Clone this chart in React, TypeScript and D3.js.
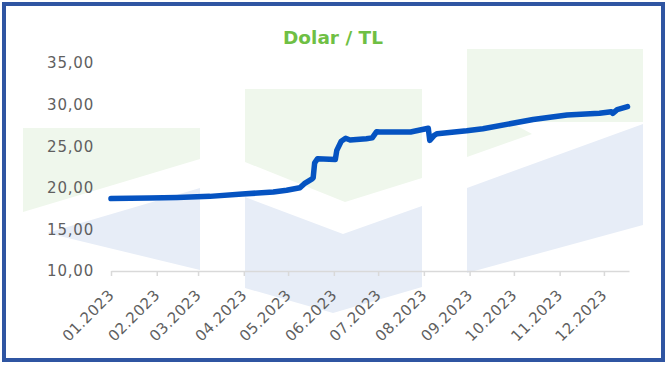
import React, { useEffect, useRef } from 'react';
import * as d3 from 'd3';

// USD/TRY 2023
const dates = [
  '2023-01-01', '2023-01-27', '2023-02-15', '2023-03-09', '2023-03-31',
  '2023-04-21', '2023-04-30', '2023-05-09', '2023-05-12', '2023-05-17',
  '2023-05-18', '2023-05-19', '2023-05-21', '2023-06-02', '2023-06-03',
  '2023-06-06', '2023-06-09', '2023-06-12', '2023-06-23', '2023-06-27',
  '2023-06-30', '2023-07-02', '2023-07-23', '2023-08-04', '2023-08-05',
  '2023-08-08', '2023-08-10', '2023-08-30', '2023-09-10', '2023-10-14',
  '2023-11-06', '2023-11-28', '2023-12-06', '2023-12-07', '2023-12-10',
  '2023-12-17'
];
const rates = [
  18.70, 18.76, 18.82, 18.97, 19.25,
  19.50, 19.70, 20.00, 20.50, 21.05,
  21.20, 23.00, 23.50, 23.40, 24.50,
  25.60, 25.95, 25.75, 25.90, 26.00,
  26.75, 26.70, 26.70, 27.15, 25.70,
  26.30, 26.50, 26.85, 27.10, 28.20,
  28.75, 28.95, 29.15, 28.95, 29.40,
  29.75
];
const yTicks = [10, 15, 20, 25, 30, 35];
const monthTicks = [
  '2023-01-01', '2023-02-01', '2023-03-01', '2023-04-01', '2023-05-01', '2023-06-01',
  '2023-07-01', '2023-08-01', '2023-09-01', '2023-10-01', '2023-11-01', '2023-12-01'
];
const xDomain = ['2023-01-01', '2023-12-18'];

// decorative logo watermark behind the plot
const watermark = [
  { fill: '#eff7ec', points: [[23, 128], [200, 128], [200, 159], [23, 212]] },
  { fill: '#e7edf7', points: [[47, 233], [200, 188], [200, 270]] },
  { fill: '#eff7ec', points: [[245, 89], [422, 89], [422, 178], [345, 202], [245, 162]] },
  { fill: '#e7edf7', points: [[245, 197], [343, 234], [422, 206], [422, 287], [333, 313], [245, 288]] },
  { fill: '#eff7ec', points: [[467, 49], [643, 49], [643, 122], [510, 122], [532, 134], [467, 157]] },
  { fill: '#e7edf7', points: [[467, 188], [643, 124], [643, 225], [467, 273]] }
];

const WIDTH = 668;
const HEIGHT = 366;
const FONT = '"DejaVu Sans", sans-serif';

const App = () => {
  const svgRef = useRef<SVGSVGElement | null>(null);

  useEffect(() => {
    if (!svgRef.current) return;
    const svg = d3.select(svgRef.current);
    svg.selectAll('*').remove();

    const parse = d3.timeParse('%Y-%m-%d');
    const data = dates.map((d, i) => ({ date: parse(d) as Date, value: rates[i] }));

    const x = d3.scaleTime()
      .domain(xDomain.map(d => parse(d) as Date))
      .range([111, 629]);
    const y = d3.scaleLinear().domain([10, 35]).range([271, 63]);

    svg.append('rect')
      .attr('width', WIDTH)
      .attr('height', HEIGHT)
      .attr('fill', '#fff');

    svg.append('g')
      .selectAll('polygon')
      .data(watermark)
      .enter()
      .append('polygon')
      .attr('points', d => d.points.map(p => p.join(',')).join(' '))
      .attr('fill', d => d.fill);

    // frame
    svg.append('rect')
      .attr('x', 4)
      .attr('y', 4)
      .attr('width', 659)
      .attr('height', 356)
      .attr('fill', 'none')
      .attr('stroke', '#2f55a2')
      .attr('stroke-width', 4);

    svg.append('text')
      .attr('x', 333)
      .attr('y', 44)
      .attr('text-anchor', 'middle')
      .attr('font-family', FONT)
      .attr('font-weight', 'bold')
      .attr('font-size', 18.5)
      .attr('fill', '#6fbf44')
      .text('Dolar / TL');

    // y labels
    svg.append('g')
      .selectAll('text')
      .data(yTicks)
      .enter()
      .append('text')
      .attr('x', 94)
      .attr('y', d => y(d))
      .attr('dy', '0.36em')
      .attr('text-anchor', 'end')
      .attr('font-family', FONT)
      .attr('font-size', 15)
      .attr('letter-spacing', 0.8)
      .attr('fill', '#5f5f5f')
      .text(d => d.toFixed(2).replace('.', ','));

    // x axis
    const xAxis = svg.append('g')
      .attr('transform', `translate(0,${y(10)})`)
      .call(d3.axisBottom(x)
        .tickValues(monthTicks.map(d => parse(d) as Date))
        .tickFormat(d => d3.timeFormat('%m.%Y')(d as Date))
        .tickSize(5)
        .tickSizeOuter(0));

    xAxis.select('.domain').attr('stroke', '#d9d9d9').attr('stroke-width', 1.5);
    xAxis.selectAll('.tick line').attr('stroke', '#d9d9d9').attr('stroke-width', 1.5);
    xAxis.selectAll('.tick text')
      .attr('x', 0)
      .attr('y', 0)
      .attr('dy', 0)
      .attr('transform', 'translate(3.5,25) rotate(-45)')
      .style('text-anchor', 'end')
      .attr('font-family', FONT)
      .attr('font-size', 15)
      .attr('letter-spacing', 0.5)
      .attr('fill', '#5f5f5f');

    const line = d3.line<{ date: Date; value: number }>()
      .x(d => x(d.date))
      .y(d => y(d.value));

    svg.append('path')
      .datum(data)
      .attr('d', line)
      .attr('fill', 'none')
      .attr('stroke', '#0553c1')
      .attr('stroke-width', 5.5)
      .attr('stroke-linejoin', 'round')
      .attr('stroke-linecap', 'round');
  }, []);

  return (
    <svg
      ref={svgRef}
      width={WIDTH}
      height={HEIGHT}
      style={{ position: 'absolute', left: 0, top: 0 }}
    ></svg>
  );
};

export default App;
